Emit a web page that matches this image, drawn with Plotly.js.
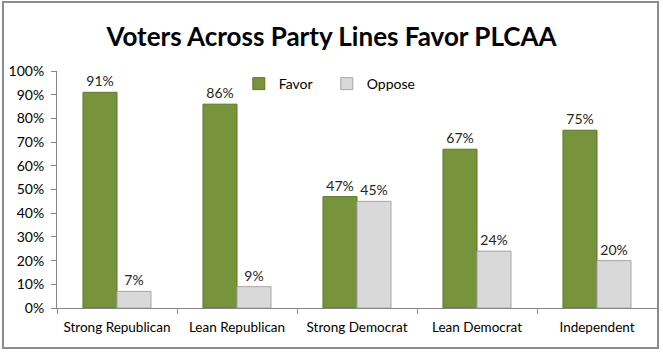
<!DOCTYPE html>
<html>
<head>
<meta charset="utf-8">
<script src="https://cdn.plot.ly/plotly-3.0.1.min.js"></script>
<style>
  html, body { margin: 0; padding: 0; background: #ffffff; }
  #chart { width: 663px; height: 353px; }
</style>
</head>
<body>
<div id="chart"></div>
<script>
const categories = ["Strong Republican", "Lean Republican", "Strong Democrat", "Lean Democrat", "Independent"];
const favorValues = [91, 86, 47, 67, 75];
const opposeValues = [7, 9, 45, 24, 20];
const yTickValues = [0, 10, 20, 30, 40, 50, 60, 70, 80, 90, 100];
const yTickLabels = ["0%", "10%", "20%", "30%", "40%", "50%", "60%", "70%", "80%", "90%", "100%"];

const FONT = "Lato, 'Open Sans', sans-serif";

const traces = [
  {
    type: "bar", name: "Favor", x: categories, y: favorValues,
    marker: { color: "#77933C", line: { color: "#5E7530", width: 1 } },
    text: favorValues.map(v => v + "%"), textposition: "outside",
    textfont: { family: FONT, size: 14, color: "#262626" },
    cliponaxis: false, hoverinfo: "skip"
  },
  {
    type: "bar", name: "Oppose", x: categories, y: opposeValues,
    marker: { color: "#D9D9D9", line: { color: "#A6A6A6", width: 1 } },
    text: opposeValues.map(v => v + "%"), textposition: "outside",
    textfont: { family: FONT, size: 14, color: "#262626" },
    cliponaxis: false, hoverinfo: "skip"
  }
];

const layout = {
  width: 663, height: 353,
  margin: { l: 57, r: 6, t: 71, b: 45, pad: 0 },
  paper_bgcolor: "#ffffff", plot_bgcolor: "#ffffff",
  font: { family: FONT, size: 14, color: "#000000" },
  title: {
    text: "<b>Voters Across Party Lines Favor PLCAA</b>",
    font: { family: FONT, size: 26, color: "#000000" },
    x: 0.5, xanchor: "center", y: 0.895, yanchor: "middle", xref: "container", yref: "container"
  },
  barmode: "group", bargap: 0.433, bargroupgap: 0,
  showlegend: true,
  legend: {
    orientation: "h", x: 0.303, y: 0.945, xanchor: "left", yanchor: "middle",
    font: { family: FONT, size: 14, color: "#000000" },
    bgcolor: "rgba(0,0,0,0)", entrywidth: 43, entrywidthmode: "pixels",
    itemwidth: 30
  },
  xaxis: {
    type: "category", showgrid: false, zeroline: false,
    showline: true, linecolor: "#868686", linewidth: 1,
    ticks: "outside", ticklen: 5, tickcolor: "#868686", tickson: "boundaries",
    tickangle: 0, ticklabelstandoff: 7,
    tickfont: { family: FONT, size: 13.5, color: "#000000" },
    fixedrange: true
  },
  yaxis: {
    range: [0, 100], showgrid: false, zeroline: false,
    showline: true, linecolor: "#868686", linewidth: 1,
    ticks: "outside", ticklen: 5, tickcolor: "#868686",
    ticklabelstandoff: 4,
    tickmode: "array", tickvals: yTickValues, ticktext: yTickLabels,
    tickfont: { family: FONT, size: 14, color: "#000000" },
    fixedrange: true
  },
  shapes: [
    {
      type: "rect", xref: "paper", yref: "paper",
      x0: -54 / 600, x1: 601 / 600, y0: -40 / 237, y1: 306 / 237,
      line: { color: "#8C8C8C", width: 2 }, fillcolor: "rgba(0,0,0,0)", layer: "below"
    }
  ]
};

Plotly.newPlot("chart", traces, layout, { displayModeBar: false, staticPlot: true });
</script>
</body>
</html>
